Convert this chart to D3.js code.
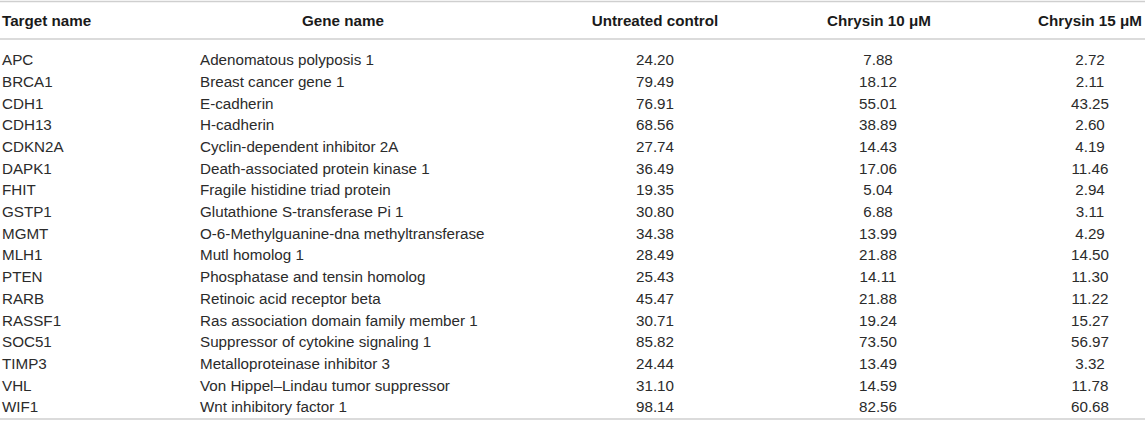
<!DOCTYPE html>
<html>
<head>
    <meta charset="utf-8">
    <title>Methylation table</title>
    <script src="https://cdn.jsdelivr.net/npm/d3@7"></script>
    <style>
        body { margin: 0; background: #fff; }
        text { font-family: "Liberation Sans", Arial, Helvetica, sans-serif; fill: #2b2b2b; }
    </style>
</head>
<body>
    <svg width="1145" height="422" id="mainsvg"></svg>
    <script>
        // table data
        const headers = ['Target name', 'Gene name', 'Untreated control', 'Chrysin 10 μM', 'Chrysin 15 μM'];
        const targets = ['APC', 'BRCA1', 'CDH1', 'CDH13', 'CDKN2A', 'DAPK1', 'FHIT', 'GSTP1', 'MGMT',
            'MLH1', 'PTEN', 'RARB', 'RASSF1', 'SOC51', 'TIMP3', 'VHL', 'WIF1'];
        const genes = ['Adenomatous polyposis 1', 'Breast cancer gene 1', 'E-cadherin', 'H-cadherin',
            'Cyclin-dependent inhibitor 2A', 'Death-associated protein kinase 1', 'Fragile histidine triad protein',
            'Glutathione S-transferase Pi 1', 'O-6-Methylguanine-dna methyltransferase', 'Mutl homolog 1',
            'Phosphatase and tensin homolog', 'Retinoic acid receptor beta', 'Ras association domain family member 1',
            'Suppressor of cytokine signaling 1', 'Metalloproteinase inhibitor 3', 'Von Hippel\u2013Lindau tumor suppressor',
            'Wnt inhibitory factor 1'];
        const untreated = [24.20, 79.49, 76.91, 68.56, 27.74, 36.49, 19.35, 30.80, 34.38, 28.49, 25.43, 45.47, 30.71, 85.82, 24.44, 31.10, 98.14];
        const chrysin10 = [7.88, 18.12, 55.01, 38.89, 14.43, 17.06, 5.04, 6.88, 13.99, 21.88, 14.11, 21.88, 19.24, 73.50, 13.49, 14.59, 82.56];
        const chrysin15 = [2.72, 2.11, 43.25, 2.60, 4.19, 11.46, 2.94, 3.11, 4.29, 14.50, 11.30, 11.22, 15.27, 56.97, 3.32, 11.78, 60.68];

        const svg = d3.select('svg');
        const width = +svg.attr('width');
        const fs = 15.2;

        // row positions
        const y = d3.scalePoint().domain(targets).range([59.7, 407]);
        // column anchors: [header x, header anchor, cell x, cell anchor]
        const cols = [
            { hx: 2, ha: 'start', cx: 2, ca: 'start' },
            { hx: 343, ha: 'middle', cx: 200, ca: 'start' },
            { hx: 655, ha: 'middle', cx: 655, ca: 'middle' },
            { hx: 879, ha: 'middle', cx: 878, ca: 'middle' },
            { hx: 1090, ha: 'middle', cx: 1090, ca: 'middle' }
        ];

        // rules
        const rules = [1.5, 39, 419];
        svg.selectAll('line.rule').data(rules).join('line')
            .attr('class', 'rule')
            .attr('x1', 0).attr('x2', width)
            .attr('y1', d => d).attr('y2', d => d)
            .attr('stroke', '#cfcfcf')
            .attr('stroke-width', 1.5);

        // header
        svg.selectAll('text.head').data(headers).join('text')
            .attr('class', 'head')
            .attr('x', (d, i) => cols[i].hx)
            .attr('y', 26)
            .attr('text-anchor', (d, i) => cols[i].ha)
            .attr('font-size', fs)
            .attr('font-weight', 'bold')
            .style('fill', '#1a1a1a')
            .text(d => d);

        const rows = targets.map((t, i) => [t, genes[i], untreated[i].toFixed(2), chrysin10[i].toFixed(2), chrysin15[i].toFixed(2)]);

        const rowG = svg.selectAll('g.row').data(rows).join('g')
            .attr('class', 'row')
            .attr('transform', (d, i) => `translate(0, ${y(targets[i]) + 5.4})`);

        rowG.selectAll('text').data(d => d).join('text')
            .attr('x', (d, i) => cols[i].cx)
            .attr('text-anchor', (d, i) => cols[i].ca)
            .attr('font-size', fs)
            .text(d => d);
    </script>
</body>
</html>
